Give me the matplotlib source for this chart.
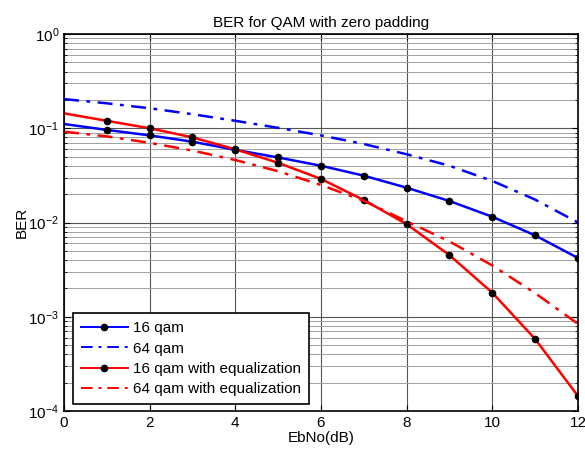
import numpy as np
import matplotlib
matplotlib.use('Agg')
import matplotlib.pyplot as plt
from matplotlib.ticker import LogLocator, NullFormatter

plt.rcParams['font.family'] = ['Liberation Sans', 'DejaVu Sans']
plt.rcParams['mathtext.fontset'] = 'custom'
plt.rcParams['mathtext.rm'] = 'Liberation Sans'

# EbNo axis (dB)
ebno = [0, 1, 2, 3, 4, 5, 6, 7, 8, 9, 10, 11, 12]

# BER values
ber_16 = [0.111, 0.096, 0.084, 0.072, 0.059, 0.049, 0.040, 0.0314, 0.0234,
          0.0169, 0.0115, 0.0073, 0.0042]
ber_64 = [0.204, 0.184, 0.163, 0.141, 0.120, 0.101, 0.084, 0.068, 0.053,
          0.040, 0.0276, 0.0175, 0.0100]
ber_16_eq = [0.144, 0.120, 0.100, 0.080, 0.0598, 0.043, 0.029, 0.0173,
             0.0096, 0.0045, 0.0018, 0.00058, 0.000144]
ber_64_eq = [0.092, 0.082, 0.070, 0.058, 0.046, 0.035, 0.025, 0.017, 0.0103,
             0.0063, 0.0035, 0.00178, 0.00084]

labels = ['16 qam', '64 qam', '16 qam with equalization',
          '64 qam with equalization']

fig = plt.figure(figsize=(5.85, 4.5), dpi=100)
ax = fig.add_axes([0.1094, 0.0867, 0.8786, 0.8377])

ax.semilogy(ebno, ber_16, color='b', lw=1.8, marker='o', ms=4.5,
            mfc='k', mec='k', markevery=list(range(1, 13)), label=labels[0])
ax.semilogy(ebno, ber_64, color='b', lw=1.8, ls=(0, (6, 3, 1.5, 3)),
            label=labels[1])
ax.semilogy(ebno, ber_16_eq, color='r', lw=1.8, marker='o', ms=4.5,
            mfc='k', mec='k', markevery=list(range(1, 13)), label=labels[2])
ax.semilogy(ebno, ber_64_eq, color='r', lw=1.8, ls=(0, (6, 3, 1.5, 3)),
            label=labels[3])

ax.set_xlim(0, 12)
ax.set_ylim(1e-4, 1)
ax.set_xticks(range(0, 13, 2))
ax.yaxis.set_major_locator(LogLocator(base=10, numticks=10))
ax.yaxis.set_minor_locator(LogLocator(base=10, subs=np.arange(2, 10), numticks=10))
ax.yaxis.set_minor_formatter(NullFormatter())

ax.grid(True, which='major', color='#555555', lw=0.8)
ax.grid(True, which='minor', axis='y', color='#a0a0a0', lw=0.7)
ax.set_axisbelow(True)

ax.tick_params(which='both', direction='in', top=True, right=True,
               labelsize=11, colors='k')
ax.tick_params(which='major', length=4)
ax.tick_params(which='minor', length=2.5)
for s in ax.spines.values():
    s.set_linewidth(1.2)

ax.set_title('BER for QAM with zero padding', fontsize=11, pad=5)
ax.set_xlabel('EbNo(dB)', fontsize=11, labelpad=1)
ax.set_ylabel('BER', fontsize=11, labelpad=0)

leg = ax.legend(loc='lower left', bbox_to_anchor=(0.0175, 0.0186),
                borderaxespad=0, fontsize=11, fancybox=False, framealpha=1,
                edgecolor='k', handlelength=3.1, handletextpad=0.35,
                labelspacing=0.42, borderpad=0.5)
leg.get_frame().set_linewidth(1.2)
for h in leg.get_lines():
    h.set_linewidth(1.4)

fig.savefig('out.png', dpi=100)
